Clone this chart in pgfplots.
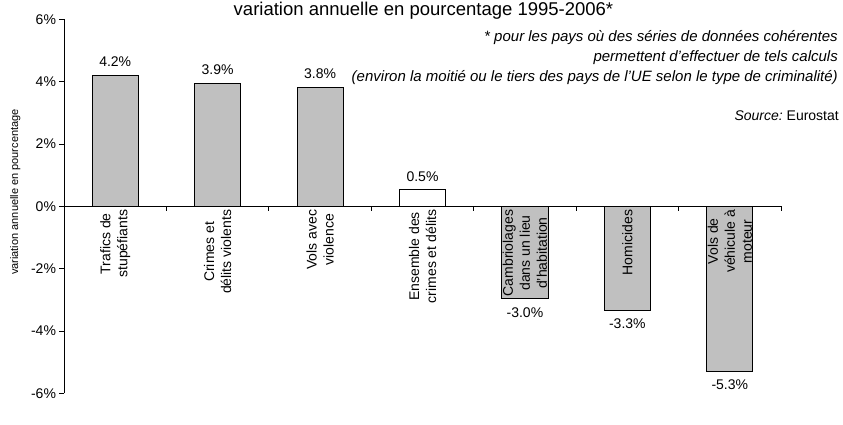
\documentclass[border=0pt]{standalone}
\usepackage{pgfplots}
\pgfplotsset{compat=1.18}
\usepackage{fontspec}
\setmainfont{Liberation Sans}
\definecolor{bargray}{HTML}{C0C0C0}
\begin{document}
\begin{tikzpicture}
\begin{axis}[
  at={(64pt,30.7pt)}, anchor=south west,
  scale only axis, width=717pt, height=374pt,
  xmin=-0.5, xmax=6.5, ymin=-6, ymax=6,
  axis on top,
  axis x line=middle, axis y line=left,
  axis line style={-, line width=0.9pt, color=black},
  tick style={line width=0.9pt, color=black},
  tick align=outside,
  major tick length=4.5pt,
  xtick={-0.5,0.5,1.5,2.5,3.5,4.5,5.5,6.5},
  xticklabels={},
  extra x ticks={0,1,2,3,4,5,6},
  extra x tick labels={{Trafics de\\stupéfiants},{Crimes et\\délits violents},{Vols avec\\violence},{Ensemble des\\crimes et délits},{Cambriolages\\dans un lieu\\d'habitation},{Homicides},{Vols de\\véhicule à\\moteur}},
  extra x tick style={major tick length=0pt},
  x tick label style={rotate=90, anchor=east, align=center, font=\fontsize{14}{17}\selectfont},
  ytick={-6,-4,-2,0,2,4,6},
  yticklabels={-6\%,-4\%,-2\%,0\%,2\%,4\%,6\%},
  y tick label style={font=\fontsize{14}{17}\selectfont},
  ylabel={variation annuelle en pourcentage},
  ylabel style={at={(axis description cs:-0.068,0.538)}, anchor=center, font=\fontsize{11}{13}\selectfont},
  nodes near coords,
  point meta=explicit symbolic,
  nodes near coords style={font=\fontsize{14}{17}\selectfont, inner ysep=8pt, inner xsep=0pt},
]
\addplot[ybar, bar width=0.45, bar shift=0pt, fill=bargray, draw=black, line width=0.9pt,
  nodes near coords style={anchor=south}]
  coordinates {(0,4.21)[4.2\%] (1,3.94)[3.9\%] (2,3.81)[3.8\%]};
\addplot[ybar, bar width=0.45, bar shift=0pt, fill=white, draw=black, line width=0.9pt,
  nodes near coords style={anchor=south}]
  coordinates {(3,0.53)[0.5\%]};
\addplot[ybar, bar width=0.45, bar shift=0pt, fill=bargray, draw=black, line width=0.9pt,
  nodes near coords style={anchor=north}]
  coordinates {(4,-2.97)[-3.0\%] (5,-3.33)[-3.3\%] (6,-5.30)[-5.3\%]};
\end{axis}
\node[anchor=base, font=\fontsize{18.5}{22}\selectfont, inner sep=0pt] at (423.5pt,408.5pt) {variation annuelle en pourcentage 1995-2006*};
\node[anchor=base east, font=\itshape\fontsize{15}{18}\selectfont, inner sep=0pt] at (838pt,382pt) {* pour les pays où des séries de données cohérentes};
\node[anchor=base east, font=\itshape\fontsize{15}{18}\selectfont, inner sep=0pt] at (838pt,362pt) {permettent d'effectuer de tels calculs};
\node[anchor=base east, font=\itshape\fontsize{15}{18}\selectfont, inner sep=0pt] at (838pt,342pt) {(environ la moitié ou le tiers des pays de l'UE selon le type de criminalité)};
\node[anchor=base east, font=\fontsize{14}{17}\selectfont, inner sep=0pt] at (839pt,304pt) {\textit{Source:}~Eurostat};
\pgfresetboundingbox
\path (0pt,0pt) rectangle (843pt,424pt);
\end{tikzpicture}
\end{document}
